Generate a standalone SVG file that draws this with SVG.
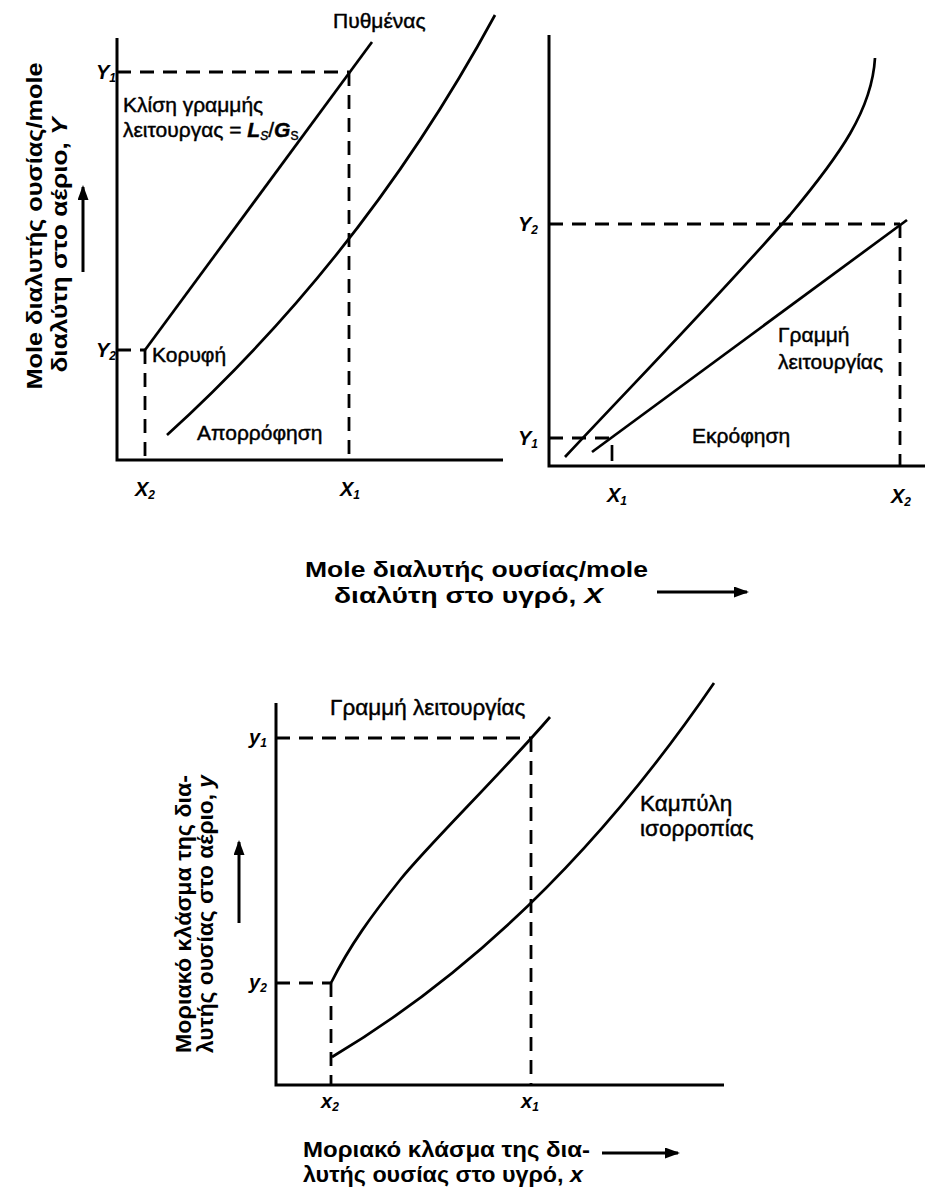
<svg xmlns="http://www.w3.org/2000/svg" width="925" height="1198" viewBox="0 0 925 1198">
<style>
.ax{stroke:#000;stroke-width:3;fill:none}
.cv{stroke:#000;stroke-width:2.7;fill:none}
.ds{stroke:#000;stroke-width:2.8;fill:none;stroke-dasharray:14 9}
.ar{stroke:#000;stroke-width:3;fill:none;marker-end:url(#ah)}
.lb{font-family:"Liberation Sans",Arial,sans-serif;font-size:21px;fill:#000;stroke:#000;stroke-width:0.45}
.lb2{font-family:"Liberation Sans",Arial,sans-serif;font-size:22.5px;fill:#000;stroke:#000;stroke-width:0.45}
.bl{font-family:"Liberation Sans",Arial,sans-serif;font-size:22px;font-weight:bold;fill:#000}
.bl2{font-family:"Liberation Sans",Arial,sans-serif;font-size:21.5px;font-weight:bold;fill:#000}
.vr{font-family:"Liberation Sans",Arial,sans-serif;font-size:20px;font-weight:bold;font-style:italic;fill:#000}
</style>
<defs>
<marker id="ah" markerWidth="15" markerHeight="11" refX="13" refY="5.5" orient="auto" markerUnits="userSpaceOnUse">
<path d="M0,0 L15,5.5 L0,11 Z" fill="#000"/>
</marker>
</defs>
<rect width="925" height="1198" fill="#fff"/>

<g id="absorption-chart">
<path class="ax" d="M117,38 V460 H503"/>
<path class="ds" d="M117,72 H349 M349,72 V460 M117,350 H145 M145,350 V460"/>
<path class="cv" d="M145,350 L372,42"/>
<path class="cv" d="M167,435 Q365,255 495,15"/>
<text class="vr" x="96" y="79">Y<tspan font-size="12" dy="3">1</tspan></text>
<text class="vr" x="96" y="357">Y<tspan font-size="12" dy="3">2</tspan></text>
<text class="vr" x="135" y="496">X<tspan font-size="12" dy="3">2</tspan></text>
<text class="vr" x="340" y="496">X<tspan font-size="12" dy="3">1</tspan></text>
<text class="lb" x="333" y="28">Πυθμένας</text>
<text class="lb" x="123" y="112">Κλίση γραμμής</text>
<text class="lb" x="123" y="137">λειτουργας = <tspan font-weight="bold" font-style="italic">L</tspan><tspan font-size="12" font-style="italic" dy="3">S</tspan><tspan dy="-3">/</tspan><tspan font-weight="bold" font-style="italic">G</tspan><tspan font-size="12" dy="3">S</tspan></text>
<text class="lb" x="152" y="362">Κορυφή</text>
<text class="lb" x="197" y="440">Απορρόφηση</text>
</g>

<g id="absorption-y-label">
<text class="bl" text-anchor="middle" textLength="327" lengthAdjust="spacingAndGlyphs" transform="translate(42,226) rotate(-90)">Mole διαλυτής ουσίας/mole</text>
<text class="bl" text-anchor="middle" textLength="255" lengthAdjust="spacingAndGlyphs" transform="translate(67,245) rotate(-90)">διαλύτη στο αέριο, <tspan font-style="italic">Y</tspan></text>
</g>

<g id="stripping-chart">
<path class="ax" d="M549,35 V466 H925"/>
<path class="ds" d="M549,224 H900 M900,224 V466 M549,438 H612"/>
<path class="cv" d="M612,445 V461" stroke-width="3"/>
<path class="cv" d="M592,452 L907,220"/>
<path class="cv" d="M565,457 C640,377 720,295 790,215 C840,155 872,110 875,58"/>
<text class="vr" x="518" y="231">Y<tspan font-size="12" dy="3">2</tspan></text>
<text class="vr" x="518" y="445">Y<tspan font-size="12" dy="3">1</tspan></text>
<text class="vr" x="607" y="502">X<tspan font-size="12" dy="3">1</tspan></text>
<text class="vr" x="891" y="503">X<tspan font-size="12" dy="3">2</tspan></text>
<text class="lb" x="778" y="342">Γραμμή</text>
<text class="lb" x="778" y="369">λειτουργίας</text>
<text class="lb" x="692" y="443">Εκρόφηση</text>
</g>

<g id="shared-x-label">
<text class="bl" x="305" y="577" textLength="343" lengthAdjust="spacingAndGlyphs">Mole διαλυτής ουσίας/mole</text>
<text class="bl" x="334" y="603" textLength="269" lengthAdjust="spacingAndGlyphs">διαλύτη στο υγρό, <tspan font-style="italic">X</tspan></text>
</g>

<g id="mole-fraction-chart">
<path class="ax" d="M276,703 V1085 H724"/>
<path class="ds" d="M276,738 H531 M531,738 V1085 M276,983 H331 M331,983 V1085"/>
<path class="cv" d="M331,983 C350,945 372,915 400,880 S500,775 550,717"/>
<path class="cv" d="M332,1057 Q545,930 714,683"/>
<text class="vr" x="249" y="744">y<tspan font-size="12" dy="3">1</tspan></text>
<text class="vr" x="249" y="989">y<tspan font-size="12" dy="3">2</tspan></text>
<text class="vr" x="321" y="1108">x<tspan font-size="12" dy="3">2</tspan></text>
<text class="vr" x="521" y="1108">x<tspan font-size="12" dy="3">1</tspan></text>
<text class="lb2" x="330" y="715">Γραμμή λειτουργίας</text>
<text class="lb2" x="640" y="811">Καμπύλη</text>
<text class="lb2" x="640" y="836">ισορροπίας</text>
</g>

<g id="mole-fraction-labels">
<text class="bl2" text-anchor="middle" textLength="278" lengthAdjust="spacingAndGlyphs" transform="translate(191,914) rotate(-90)">Μοριακό κλάσμα της δια-</text>
<text class="bl2" text-anchor="middle" textLength="278" lengthAdjust="spacingAndGlyphs" transform="translate(213,914) rotate(-90)">λυτής ουσίας στο αέριο, <tspan font-style="italic">y</tspan></text>
<text class="bl2" x="303" y="1157" textLength="287" lengthAdjust="spacingAndGlyphs">Μοριακό κλάσμα της δια-</text>
<text class="bl2" x="303" y="1182" textLength="280" lengthAdjust="spacingAndGlyphs">λυτής ουσίας στο υγρό, <tspan font-style="italic">x</tspan></text>
</g>

<g id="connectors">
<path class="ar" d="M83,272 V187"/>
<path class="ar" d="M657,592 H747"/>
<path class="ar" d="M239,923 V842"/>
<path class="ar" d="M602,1153 H678"/>
</g>
</svg>
